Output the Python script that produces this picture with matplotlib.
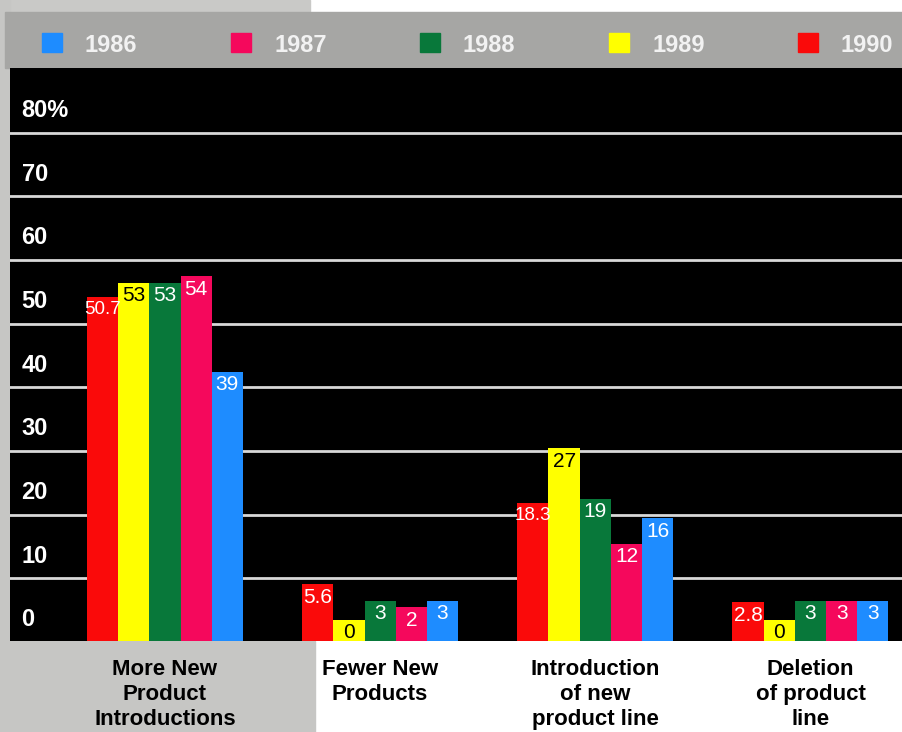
import matplotlib
matplotlib.use("Agg")
import matplotlib.pyplot as plt
from matplotlib.patches import Rectangle
import numpy as np

plt.rcParams["font.family"] = ["Liberation Sans", "DejaVu Sans"]

categories = ["More New\nProduct\nIntroductions", "Fewer New\nProducts",
              "Introduction\nof new\nproduct line", "Deletion\nof product\nline"]
years = ["1990", "1989", "1988", "1987", "1986"]
v1990 = [50.7, 5.6, 18.3, 2.8]
v1989 = [53, 0, 27, 0]
v1988 = [53, 3, 19, 3]
v1987 = [54, 2, 12, 3]
v1986 = [39, 3, 16, 3]
series = [v1990, v1989, v1988, v1987, v1986]
yticks = [0, 10, 20, 30, 40, 50, 60, 70, 80]
ytick_labels = ["0", "10", "20", "30", "40", "50", "60", "70", "80%"]

colors = ["#fa0a0a", "#ffff00", "#08783a", "#f5085c", "#1e8cff"]
text_colors = ["white", "black", "white", "white", "white"]

W, H = 903, 732
fig = plt.figure(figsize=(W / 100, H / 100), dpi=100, facecolor="white")

# background panels (scan look)
bg = [((0, 1 - 12 / H), 310 / W, 12 / H, "#c9c9c7"),
      ((0, 0), 315 / W, 1 - 641 / H, "#c6c6c4"),
      ((0, 0), 10 / W, 1, "#c6c6c4"),
      ((5 / W, 1 - 68 / H), 1, 56 / H, "#a6a6a4")]
for xy, bw, bh, c in bg:
    fig.patches.append(Rectangle(xy, bw, bh, transform=fig.transFigure,
                                 color=c, zorder=-5))

base = -3.3
ax = fig.add_axes([10 / W, 1 - 641 / H, 1 - 10 / W, 573 / H])
ax.set_facecolor("black")
ax.set_xlim(-0.72, 3.43)
ax.set_ylim(base, 86.7)

renderer = fig.canvas.get_renderer()
x = np.arange(len(categories))
w = 0.145
for i, vals in enumerate(series):
    vals = np.array(vals, dtype=float)
    bars = ax.bar(x + (i - 2) * w, vals - base, bottom=base, width=w,
                  color=colors[i], zorder=2)
    for b, v in zip(bars, vals):
        t = ax.annotate(f"{v:g}", (b.get_x() + b.get_width() / 2, v),
                        xytext=(0, -2.5), textcoords="offset points",
                        ha="center", va="top", fontsize=15,
                        color=text_colors[i], zorder=3)
        # wide labels (50.7, 18.3): shrink a bit and let them spill over
        bar_px = ax.transData.transform([(b.get_x(), 0), (b.get_x() + b.get_width(), 0)])
        if t.get_window_extent(renderer).width > bar_px[1, 0] - bar_px[0, 0]:
            t.set_fontsize(13.5)

# gridlines sit between the value labels
for g in np.arange(6.55, 80, 10):
    ax.axhline(g, color="#d8d8d8", lw=2, zorder=1)

for v, lab in zip(yticks, ytick_labels):
    ax.text(0.013, v, lab, transform=ax.get_yaxis_transform(), color="white",
            fontsize=17, fontweight="bold", va="center", ha="left", zorder=1.5)

ax.set_yticks([])
ax.set_xticks(x)
ax.set_xticklabels(categories, fontsize=16, fontweight="bold", linespacing=1.24)
ax.tick_params(axis="x", length=0, pad=13)
for s in ax.spines.values():
    s.set_visible(False)

# legend band
leg_order = ["1986", "1987", "1988", "1989", "1990"]
for k, yr in enumerate(leg_order):
    c = colors[years.index(yr)]
    x0 = 42 + k * 189
    fig.patches.append(Rectangle((x0 / W, 1 - 52 / H), 20 / W, 19 / H,
                                 transform=fig.transFigure, color=c, zorder=2))
    fig.text((x0 + 43) / W, 1 - 45 / H, yr, color="#f2f2f2", fontsize=17,
             fontweight="bold", va="center", ha="left")

fig.savefig("out.png", dpi=100, facecolor=fig.get_facecolor())
